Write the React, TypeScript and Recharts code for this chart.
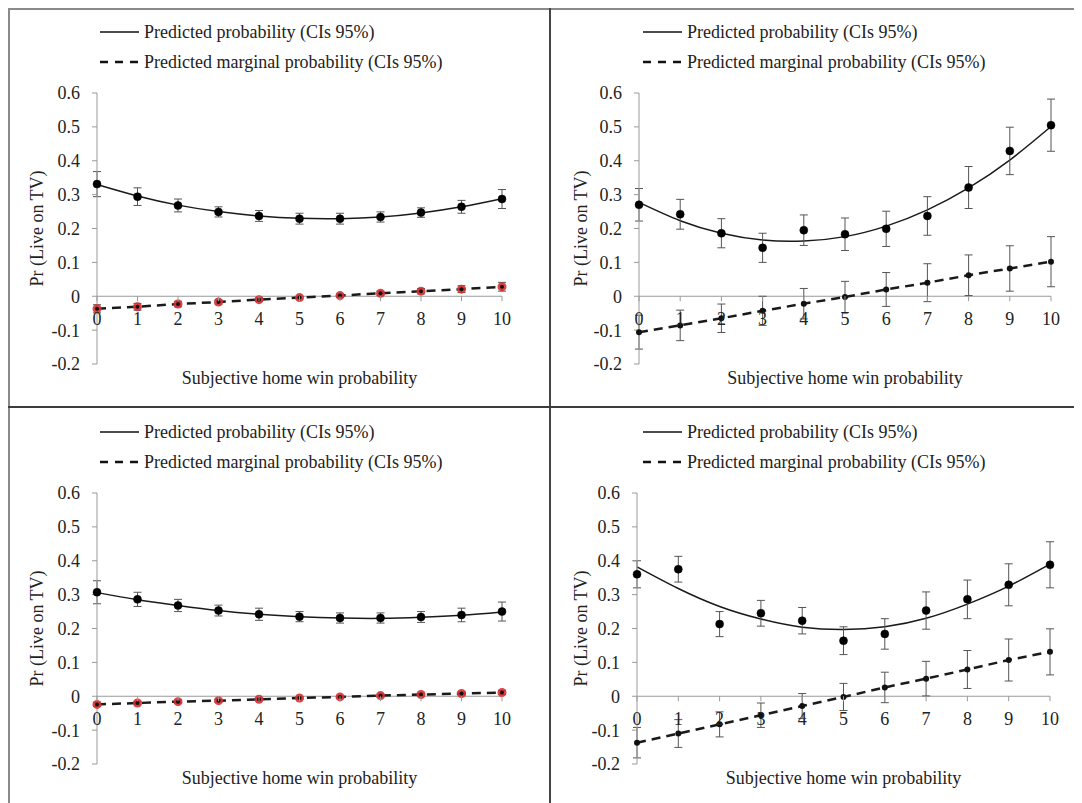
import React from 'react';
import { ComposedChart, Line, XAxis, YAxis, ErrorBar, ReferenceLine } from 'recharts';

// x categories and y ticks
const xValues = [0, 1, 2, 3, 4, 5, 6, 7, 8, 9, 10];
const yTicks = [-0.2, -0.1, 0, 0.1, 0.2, 0.3, 0.4, 0.5, 0.6];

// top left
const tlPred = [0.331, 0.294, 0.268, 0.249, 0.237, 0.229, 0.229, 0.234, 0.247, 0.264, 0.287];
const tlPredErr = [0.037, 0.026, 0.019, 0.015, 0.016, 0.016, 0.016, 0.015, 0.014, 0.019, 0.028];
const tlFit = [0.33, 0.296, 0.269, 0.25, 0.237, 0.23, 0.229, 0.234, 0.246, 0.264, 0.288];
const tlMarg = [-0.037, -0.031, -0.023, -0.017, -0.01, -0.004, 0.002, 0.009, 0.015, 0.021, 0.028];
const tlMargErr = [0.012, 0.01, 0.008, 0.006, 0.005, 0.004, 0.005, 0.006, 0.008, 0.01, 0.013];

// top right
const trPred = [0.27, 0.242, 0.186, 0.143, 0.195, 0.183, 0.199, 0.237, 0.321, 0.429, 0.505];
const trPredErr = [0.048, 0.044, 0.043, 0.043, 0.045, 0.048, 0.052, 0.057, 0.062, 0.07, 0.077];
const trFit = [0.277, 0.223, 0.186, 0.166, 0.163, 0.176, 0.207, 0.255, 0.32, 0.402, 0.501];
const trMarg = [-0.106, -0.086, -0.065, -0.043, -0.022, -0.002, 0.02, 0.04, 0.062, 0.082, 0.102];
const trMargErr = [0.05, 0.045, 0.042, 0.043, 0.045, 0.046, 0.05, 0.056, 0.06, 0.067, 0.074];

// bottom left
const blPred = [0.307, 0.286, 0.268, 0.253, 0.242, 0.235, 0.231, 0.231, 0.234, 0.24, 0.25];
const blPredErr = [0.034, 0.021, 0.018, 0.016, 0.018, 0.015, 0.015, 0.015, 0.016, 0.02, 0.028];
const blFit = [0.306, 0.285, 0.268, 0.253, 0.242, 0.235, 0.231, 0.23, 0.233, 0.239, 0.249];
const blMarg = [-0.024, -0.02, -0.016, -0.013, -0.009, -0.005, -0.002, 0.002, 0.005, 0.008, 0.011];
const blMargErr = [0.006, 0.005, 0.005, 0.004, 0.004, 0.003, 0.003, 0.004, 0.004, 0.005, 0.006];

// bottom right
const brPred = [0.36, 0.375, 0.213, 0.245, 0.223, 0.164, 0.184, 0.253, 0.286, 0.329, 0.388];
const brPredErr = [0.04, 0.038, 0.037, 0.038, 0.039, 0.041, 0.045, 0.055, 0.057, 0.062, 0.068];
const brFit = [0.382, 0.318, 0.265, 0.228, 0.204, 0.197, 0.205, 0.23, 0.272, 0.325, 0.39];
const brMarg = [-0.137, -0.11, -0.083, -0.056, -0.029, -0.002, 0.026, 0.052, 0.079, 0.107, 0.131];
const brMargErr = [0.045, 0.041, 0.037, 0.036, 0.037, 0.04, 0.045, 0.051, 0.056, 0.062, 0.068];

const FONT = '"Liberation Serif", "Times New Roman", serif';
const FS = 18;
const TEXT = '#222';
const AXIS = '#9a9a9a';
const X_TITLE = 'Subjective home win probability';
const Y_TITLE = 'Pr (Live on TV)';

const panels = [
  { key: 'tl', left: 0, top: 0, width: 534, height: 399, mTop: 85, yW: 89, mRight: 40, xH: 43, legendLeft: 92, legendTop: 9, redDots: true,
    pred: tlPred, predErr: tlPredErr, fit: tlFit, marg: tlMarg, margErr: tlMargErr },
  { key: 'tr', left: 544, top: 0, width: 530, height: 399, mTop: 85, yW: 87, mRight: 31, xH: 43, legendLeft: 91, legendTop: 9, redDots: false,
    pred: trPred, predErr: trPredErr, fit: trFit, marg: trMarg, margErr: trMargErr },
  { key: 'bl', left: 0, top: 401, width: 534, height: 394, mTop: 84, yW: 89, mRight: 40, xH: 39, legendLeft: 92, legendTop: 8, redDots: true,
    pred: blPred, predErr: blPredErr, fit: blFit, marg: blMarg, margErr: blMargErr },
  { key: 'br', left: 544, top: 401, width: 530, height: 394, mTop: 84, yW: 85, mRight: 32, xH: 39, legendLeft: 91, legendTop: 8, redDots: false,
    pred: brPred, predErr: brPredErr, fit: brFit, marg: brMarg, margErr: brMargErr },
];

const LegendBox = ({ left, top }: { left: number; top: number }) => (
  <div style={{ position: 'absolute', left, top, fontFamily: FONT, fontSize: FS, color: TEXT, whiteSpace: 'nowrap' }}>
    <div style={{ display: 'flex', alignItems: 'center', height: 30 }}>
      <svg width={39} height={4}><line x1={0} x2={39} y1={2} y2={2} stroke="#111" strokeWidth={1.5} /></svg>
      <span style={{ marginLeft: 5 }}>Predicted probability (CIs 95%)</span>
    </div>
    <div style={{ display: 'flex', alignItems: 'center', height: 30 }}>
      <svg width={39} height={4}><line x1={0} x2={39} y1={2} y2={2} stroke="#111" strokeWidth={2.5} strokeDasharray="8 7" /></svg>
      <span style={{ marginLeft: 5 }}>Predicted marginal probability (CIs 95%)</span>
    </div>
  </div>
);

function Panel({ cfg }: { cfg: any }) {
  const data = xValues.map((x, i) => ({
    x,
    pred: cfg.pred[i],
    predErr: cfg.predErr[i],
    fit: cfg.fit[i],
    marg: cfg.marg[i],
    margErr: cfg.margErr[i],
  }));
  const plotH = cfg.height - cfg.mTop - cfg.xH;
  // x axis crosses at y = 0
  const zeroY = cfg.mTop + plotH * 0.75;

  const xTick = (props: any) => {
    const { x, payload, index } = props;
    return (
      <g key={`xt-${index}`}>
        <line x1={x} x2={x} y1={zeroY} y2={zeroY + 5} stroke={AXIS} />
        <text x={x} y={zeroY + 29} textAnchor="middle" fill={TEXT} fontSize={FS} fontFamily={FONT}>
          {payload.value}
        </text>
      </g>
    );
  };

  const margDot = (props: any) => {
    const { cx, cy, index } = props;
    if (cfg.redDots) {
      return (
        <g key={`md-${index}`}>
          <circle cx={cx} cy={cy} r={4.5} fill="#d83030" fillOpacity={0.9} />
          <circle cx={cx} cy={cy} r={2} fill="#111" />
        </g>
      );
    }
    return <circle key={`md-${index}`} cx={cx} cy={cy} r={3} fill="#111" />;
  };

  return (
    <div style={{ position: 'absolute', left: cfg.left, top: cfg.top, width: cfg.width, height: cfg.height }}>
      <ComposedChart
        width={cfg.width}
        height={cfg.height}
        data={data}
        margin={{ top: cfg.mTop, right: cfg.mRight, bottom: 0, left: 0 }}
      >
        <XAxis
          type="number"
          dataKey="x"
          domain={[0, 10]}
          ticks={xValues}
          interval={0}
          height={cfg.xH}
          axisLine={false}
          tickLine={false}
          tick={xTick}
          label={{ value: X_TITLE, position: 'insideTop', offset: 7, fill: TEXT, fontSize: FS, fontFamily: FONT }}
        />
        <YAxis
          type="number"
          domain={[-0.2, 0.6]}
          ticks={yTicks}
          width={cfg.yW}
          stroke={AXIS}
          tickSize={5}
          tickMargin={12}
          tick={{ fill: TEXT, fontSize: FS, fontFamily: FONT }}
          label={{
            value: Y_TITLE,
            angle: -90,
            position: 'insideLeft',
            offset: 29,
            fill: TEXT,
            fontSize: FS,
            fontFamily: FONT,
            style: { textAnchor: 'middle' },
          }}
        />
        <ReferenceLine y={0} stroke={AXIS} />
        <Line dataKey="fit" type="natural" stroke="#1a1a1a" strokeWidth={1.5} dot={false} activeDot={false} isAnimationActive={false} />
        <Line
          dataKey="marg"
          type="linear"
          stroke="#1a1a1a"
          strokeWidth={2.5}
          strokeDasharray="9 6"
          dot={margDot}
          activeDot={false}
          isAnimationActive={false}
        >
          <ErrorBar dataKey="margErr" direction="y" width={4} stroke="#555" strokeWidth={1} />
        </Line>
        <Line
          dataKey="pred"
          stroke="none"
          dot={{ r: 4, fill: '#000', stroke: '#000', strokeWidth: 0.5 }}
          activeDot={false}
          isAnimationActive={false}
        >
          <ErrorBar dataKey="predErr" direction="y" width={4} stroke="#555" strokeWidth={1} />
        </Line>
      </ComposedChart>
      <LegendBox left={cfg.legendLeft} top={cfg.legendTop} />
    </div>
  );
}

export default function App() {
  return (
    <div style={{ position: 'relative', width: 1074, height: 795, background: '#fff', overflow: 'hidden' }}>
      <style>{'body{overflow:hidden}'}</style>
      {panels.map((p) => (
        <Panel key={p.key} cfg={p} />
      ))}
      {/* frame and dividers */}
      <div style={{ position: 'absolute', left: 0, top: 0, width: 1074, height: 2, background: '#8a8a8a' }} />
      <div style={{ position: 'absolute', left: 0, top: 0, width: 2, height: 795, background: '#8a8a8a' }} />
      <div style={{ position: 'absolute', left: 541, top: 0, width: 2, height: 795, background: '#454545' }} />
      <div style={{ position: 'absolute', left: 0, top: 398, width: 1074, height: 2, background: '#3c3c3c' }} />
    </div>
  );
}
